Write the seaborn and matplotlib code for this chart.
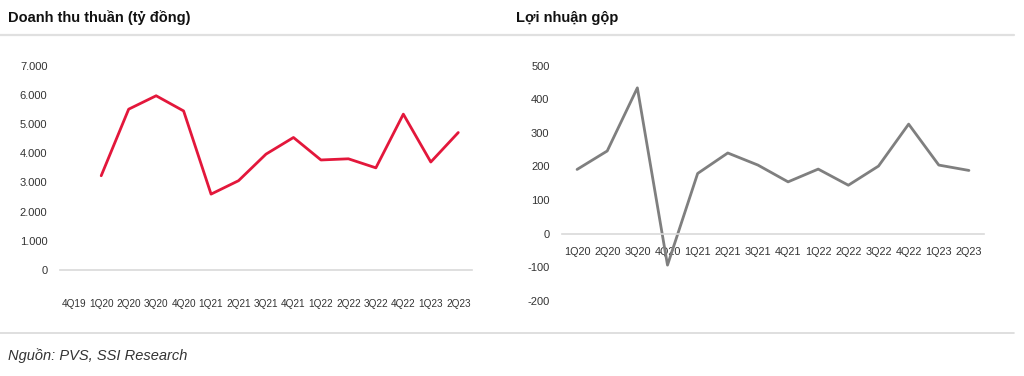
import numpy as np
import pandas as pd
import seaborn as sns
import matplotlib.pyplot as plt
from matplotlib.ticker import FuncFormatter
from matplotlib.lines import Line2D

# data
quarters_rev = ['4Q19', '1Q20', '2Q20', '3Q20', '4Q20', '1Q21', '2Q21', '3Q21',
                '4Q21', '1Q22', '2Q22', '3Q22', '4Q22', '1Q23', '2Q23']
revenue = [np.nan, 3230, 5510, 5970, 5450, 2600, 3060, 3970,
           4540, 3770, 3810, 3500, 5340, 3700, 4710]

quarters_gp = ['1Q20', '2Q20', '3Q20', '4Q20', '1Q21', '2Q21', '3Q21',
               '4Q21', '1Q22', '2Q22', '3Q22', '4Q22', '1Q23', '2Q23']
gross_profit = [191, 246, 434, -94, 179, 240, 204,
                154, 192, 144, 201, 326, 204, 188]

rev_ticks = [0, 1000, 2000, 3000, 4000, 5000, 6000, 7000]
gp_ticks = [-200, -100, 0, 100, 200, 300, 400, 500]

df_rev = pd.DataFrame({'pos': np.arange(len(quarters_rev)), 'val': revenue})
df_gp = pd.DataFrame({'pos': np.arange(len(quarters_gp)), 'val': gross_profit})

sns.set_style('white')
plt.rcParams['font.family'] = ['Liberation Sans Narrow', 'Liberation Sans', 'DejaVu Sans']

fig = plt.figure(figsize=(10.24, 3.76), dpi=100)
ax1 = fig.add_axes([60 / 1024, 1 - 270 / 376, 412 / 1024, 204.3 / 376])
ax2 = fig.add_axes([562 / 1024, 1 - 300.7 / 376, 422 / 1024, 235 / 376])

dots = FuncFormatter(lambda v, p: f'{int(v):,}'.replace(',', '.'))

sns.lineplot(data=df_rev, x='pos', y='val', ax=ax1, color='#e3173b', linewidth=2)
sns.lineplot(data=df_gp, x='pos', y='val', ax=ax2, color='#7f7f7f', linewidth=2)

for ax, labels, ticks, pad_x, xsize in [(ax1, quarters_rev, rev_ticks, 21, 7.2),
                                        (ax2, quarters_gp, gp_ticks, 10, 7.8)]:
    ax.set_xlim(-0.5, len(labels) - 0.5)
    ax.set_ylim(ticks[0], ticks[-1])
    ax.set_xticks(range(len(labels)))
    ax.set_xticklabels(labels)
    ax.set_yticks(ticks)
    ax.yaxis.set_major_formatter(dots)
    ax.set_xlabel('')
    ax.set_ylabel('')
    for s in ['top', 'right', 'left']:
        ax.spines[s].set_visible(False)
    ax.spines['bottom'].set_position(('data', 0))
    ax.spines['bottom'].set_color('#d9d9d9')
    ax.spines['bottom'].set_linewidth(1.2)
    ax.tick_params(axis='x', length=0, pad=pad_x, labelsize=xsize, labelcolor='#333333')
    ax.tick_params(axis='y', length=0, pad=9, labelsize=8, labelcolor='#333333')
    ax.patch.set_alpha(0)

# titles, rules and source
fig.text(8 / 1024, 1 - 18 / 376, 'Doanh thu thuần (tỷ đồng)', fontsize=10.5,
         fontweight='bold', va='center', ha='left', color='#111111')
fig.text(516 / 1024, 1 - 18 / 376, 'Lợi nhuận gộp', fontsize=10.5,
         fontweight='bold', va='center', ha='left', color='#111111')
fig.add_artist(Line2D([0, 1014 / 1024], [1 - 35 / 376] * 2, color='#e0e0e0',
                      linewidth=1.6, transform=fig.transFigure))
fig.add_artist(Line2D([0, 1014 / 1024], [1 - 333 / 376] * 2, color='#d9d9d9',
                      linewidth=1.2, transform=fig.transFigure))
fig.text(8 / 1024, 1 - 356 / 376, 'Nguồn: PVS, SSI Research', fontsize=10.5,
         style='italic', va='center', ha='left', color='#333333')

fig.savefig('out.png', dpi=100)
